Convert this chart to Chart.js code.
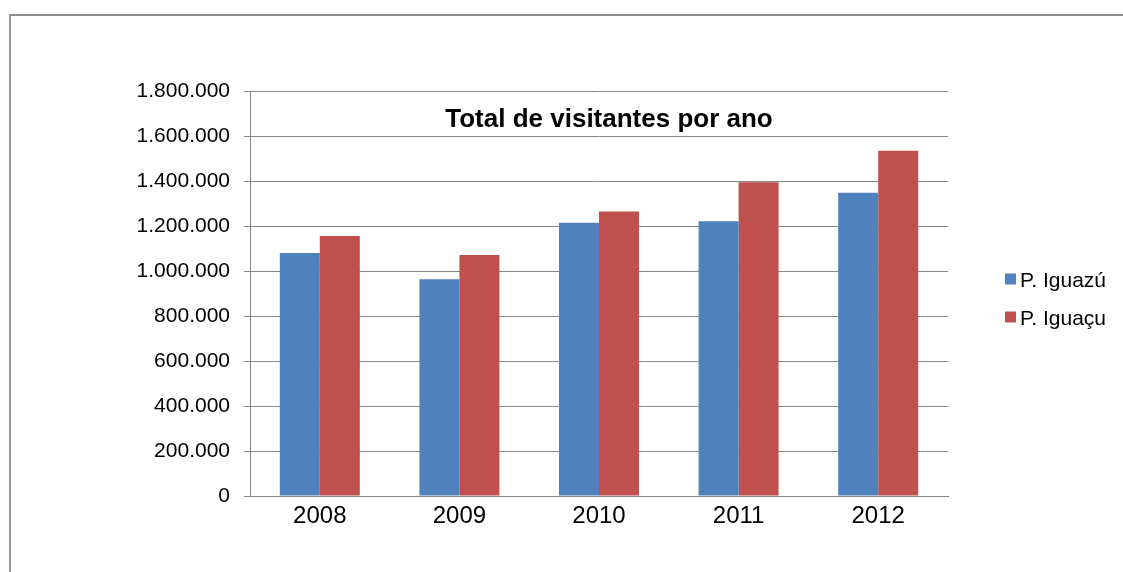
<!DOCTYPE html>
<html>
<head>
<meta charset="utf-8">
<script src="https://cdn.jsdelivr.net/npm/chart.js@4/dist/chart.umd.min.js"></script>
<style>
html, body { margin: 0; padding: 0; background: #fff; }
#wrap { position: relative; width: 1123px; height: 572px; overflow: hidden; }
#frame { position: absolute; left: 9px; top: 14px; width: 1200px; height: 700px;
         border-top: 2px solid #8c8c8c; border-left: 2px solid #9a9a9a; }
canvas { position: absolute; left: 0; top: 0; }
</style>
</head>
<body>
<div id="wrap">
  <div id="frame"></div>
  <canvas id="myChart" width="1123" height="572"></canvas>
</div>
<script>
const chartTitle = 'Total de visitantes por ano';
const years = ['2008', '2009', '2010', '2011', '2012'];
const seriesNames = ['P. Iguazú', 'P. Iguaçu'];
const iguazu = [1080000, 963000, 1215000, 1221000, 1348000];
const iguacu = [1156000, 1071000, 1265000, 1395000, 1535000];
const yMin = 0;
const yMax = 1800000;
const yStep = 200000;

const fontFamily = '"Liberation Sans", Arial, sans-serif';
const gridGray = '#878787';

function fmt(v) {
    return String(v).replace(/\B(?=(\d{3})+(?!\d))/g, '.');
}

// title sits inside the plot area, like the excel one
const overlayTitle = {
    id: 'overlayTitle',
    afterDraw(chart) {
        const { ctx, chartArea } = chart;
        ctx.save();
        ctx.font = 'bold 26px ' + fontFamily;
        ctx.fillStyle = '#000';
        ctx.textAlign = 'center';
        ctx.textBaseline = 'alphabetic';
        ctx.fillText(chartTitle, (chartArea.left + chartArea.right) / 2 + 10, chartArea.top + 36);
        ctx.restore();
    }
};

// small legend on the right, squares close to the text
const sideLegend = {
    id: 'sideLegend',
    afterDraw(chart) {
        const { ctx, chartArea } = chart;
        ctx.save();
        ctx.font = '21px ' + fontFamily;
        ctx.textAlign = 'left';
        ctx.textBaseline = 'alphabetic';
        chart.data.datasets.forEach((ds, i) => {
            const cy = chartArea.top + 188 + i * 38;
            const bx = chartArea.right + 57;
            ctx.fillStyle = ds.backgroundColor;
            ctx.fillRect(bx, cy - 5.5, 11, 11);
            ctx.fillStyle = '#000';
            ctx.fillText(ds.label, bx + 15, cy + 7.5);
        });
        ctx.restore();
    }
};

const ctx = document.getElementById('myChart');
const chartData = {
    type: 'bar',
    data: {
        labels: years,
        datasets: [{
            label: seriesNames[0],
            data: iguazu,
            backgroundColor: '#4F81BD',
            barPercentage: 1,
            categoryPercentage: 0.573
        }, {
            label: seriesNames[1],
            data: iguacu,
            backgroundColor: '#C0504D',
            barPercentage: 1,
            categoryPercentage: 0.573
        }]
    },
    options: {
        responsive: false,
        animation: false,
        layout: { padding: { left: 0, top: 91, right: 175, bottom: 0 } },
        plugins: {
            legend: { display: false },
            title: { display: false },
            tooltip: { enabled: false }
        },
        scales: {
            x: {
                grid: { display: false, drawTicks: false },
                border: { display: true, color: gridGray, width: 1 },
                ticks: {
                    color: '#000',
                    font: { family: fontFamily, size: 24 },
                    padding: 6
                },
                afterFit(scale) { scale.height = 76; }
            },
            y: {
                min: yMin,
                max: yMax,
                grid: { color: gridGray, lineWidth: 1, drawTicks: true, tickLength: 6, tickColor: gridGray },
                border: { display: true, color: gridGray, width: 1 },
                ticks: {
                    stepSize: yStep,
                    color: '#000',
                    font: { family: fontFamily, size: 21 },
                    padding: 14,
                    callback: (v) => fmt(v)
                },
                afterFit(scale) { scale.width = 250; }
            }
        }
    },
    plugins: [overlayTitle, sideLegend]
};
const myChart = new Chart(ctx, chartData);
</script>
</body>
</html>
